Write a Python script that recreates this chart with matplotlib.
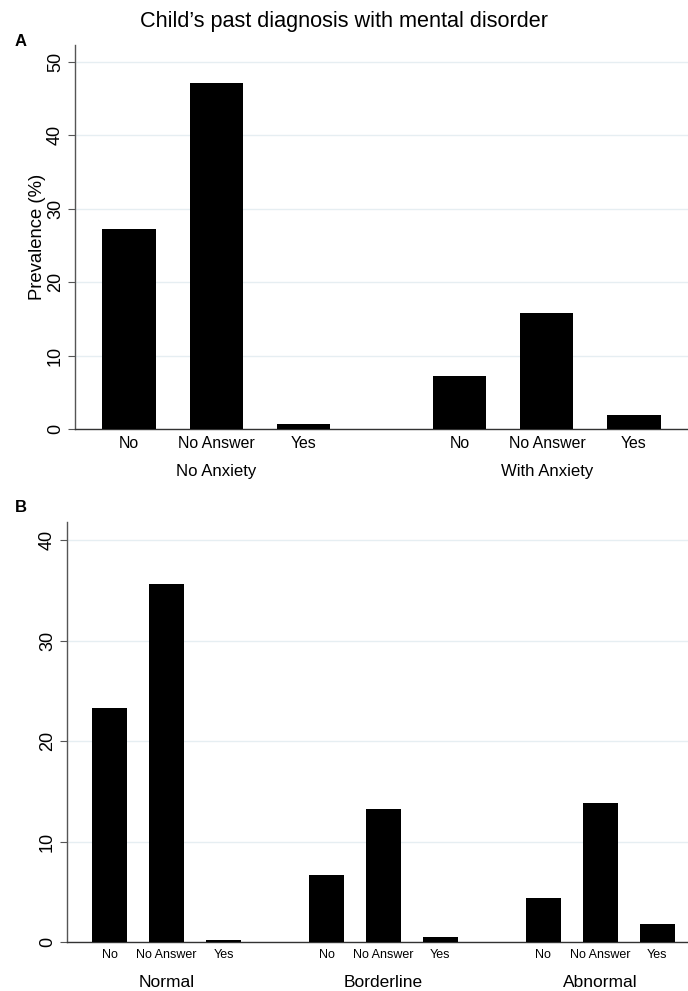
import matplotlib
matplotlib.use("Agg")
import matplotlib.pyplot as plt
import numpy as np

plt.rcParams['font.family'] = ['Liberation Sans', 'DejaVu Sans']

title = "Child\u2019s past diagnosis with mental disorder"
responses = ["No", "No Answer", "Yes"]

groups_a = ["No Anxiety", "With Anxiety"]
values_a = [[27.3, 47.1, 0.7], [7.2, 15.8, 1.9]]
yticks_a = [0, 10, 20, 30, 40, 50]

groups_b = ["Normal", "Borderline", "Abnormal"]
values_b = [[23.3, 35.6, 0.2], [6.7, 13.2, 0.5], [4.4, 13.8, 1.8]]
yticks_b = [0, 10, 20, 30, 40]

W, H = 688, 991
fig = plt.figure(figsize=(W / 100, H / 100), dpi=100)

def ax_rect(l, t, r, b):
    return [l / W, (H - b) / H, (r - l) / W, (b - t) / H]

grid_col = "#e6eef2"

def draw(ax, groups, values, yticks, ymax, gstep, xl, xr, tick_fs, group_fs, group_pad, ylab=None):
    xs, hs, labels, centers = [], [], [], []
    for gi, g in enumerate(groups):
        for ri, r in enumerate(responses):
            xs.append(gi * gstep + ri)
            hs.append(values[gi][ri])
            labels.append(r)
        centers.append(gi * gstep + 1)
    ax.bar(xs, hs, width=0.61, color="black", zorder=3)
    ax.set_xlim(xl, (len(groups) - 1) * gstep + 2 + xr)
    ax.set_ylim(0, ymax)
    ax.set_yticks(yticks)
    ax.set_yticklabels([str(t) for t in yticks], rotation=90, va="center", fontsize=13)
    ax.tick_params(axis="y", length=5, width=0.8, color="#555555", pad=3)
    for t in yticks:
        ax.axhline(t, color=grid_col, lw=1.0, zorder=1)
    ax.set_xticks(xs)
    ax.set_xticklabels(labels, fontsize=tick_fs)
    ax.tick_params(axis="x", length=0, pad=5)
    for s in ["top", "right"]:
        ax.spines[s].set_visible(False)
    ax.spines["left"].set_color("#555555")
    ax.spines["left"].set_linewidth(1.0)
    ax.spines["bottom"].set_color("#333333")
    ax.spines["bottom"].set_linewidth(1.0)
    for c, g in zip(centers, groups):
        ax.annotate(g, xy=(c, 0), xycoords=("data", "axes fraction"),
                    xytext=(0, -group_pad), textcoords="offset points",
                    ha="center", va="top", fontsize=group_fs)
    if ylab:
        ax.set_ylabel(ylab, fontsize=13.3, labelpad=1)

axA = fig.add_axes(ax_rect(75, 45, 688, 429))
draw(axA, groups_a, values_a, yticks_a, 52.3, 3.8, -0.62, 0.62, 11.4, 12.1, 25, ylab="Prevalence (%)")

axB = fig.add_axes(ax_rect(67, 522, 688, 942))
draw(axB, groups_b, values_b, yticks_b, 41.8, 3.81, -0.75, 0.54, 9.0, 12.5, 23.5)

fig.text(0.5, 1 - 22 / H, title, ha="center", va="center", fontsize=15.6)
fig.text(15 / W, 1 - 42 / H, "A", fontsize=12, fontweight="bold", va="center")
fig.text(15 / W, 1 - 508 / H, "B", fontsize=12, fontweight="bold", va="center")

fig.savefig("out.png", dpi=100)
